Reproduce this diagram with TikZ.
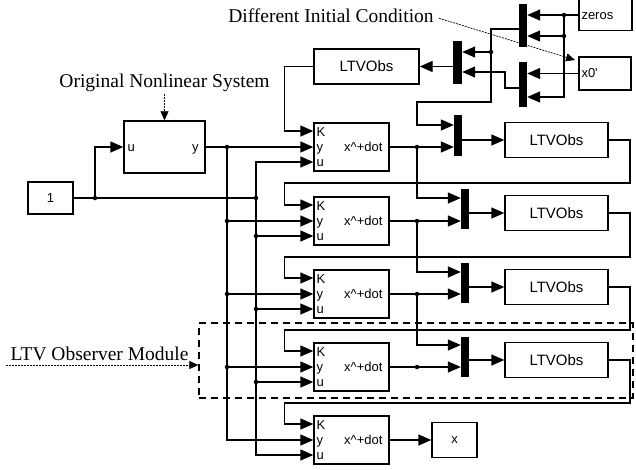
\documentclass[tikz,border=0pt]{standalone}
\usepackage{fontspec}
\setmainfont{Liberation Serif}
\newfontfamily\simfont{Liberation Sans}
\usetikzlibrary{arrows.meta,calc}

\tikzset{
  wire/.style={line width=1.4pt},
  sig/.style={wire,-{Triangle[length=13pt,width=11pt]}},
  blk/.style={draw,line width=1.4pt,inner sep=0pt,font=\simfont\fontsize{13}{13}\selectfont},
  obsblk/.style={blk,minimum width=75pt,minimum height=48pt},
  ltvblk/.style={blk,minimum width=103pt,minimum height=35pt,font=\simfont\fontsize{15}{15}\selectfont},
  muxbar/.style={fill=black,inner sep=0pt,minimum width=8pt},
  portlbl/.style={inner sep=0pt,font=\simfont\fontsize{13}{13}\selectfont},
  jdot/.style={circle,fill=black,inner sep=0pt,minimum size=4.5pt},
  note/.style={inner sep=0pt,font=\fontsize{19.5}{22}\selectfont},
  pointer/.style={line width=0.7pt,dash pattern=on 2pt off 1pt,-{Triangle[length=9pt,width=8pt]}},
}

\begin{document}
\begin{tikzpicture}[x=1pt,y=-1pt,line join=miter]
        \useasboundingbox (0,0) rectangle (636,469);

        % Source and plant
        \node[blk,minimum width=45pt,minimum height=32pt] (one) at (50.5,198) {1};
        \node[blk,minimum width=81pt,minimum height=52pt] (plant) at (164.5,147) {};
        \node[portlbl,anchor=base west] (plantu) at ([xshift=4pt,yshift=-4pt]plant.west) {u};
        \node[portlbl,anchor=base east] (planty) at ([xshift=-7pt,yshift=-4pt]plant.east) {y};

        % Observer blocks
        \foreach \i/\yy in {1/147,2/221,3/294,4/367,5/440}{
          \node[obsblk] (ob\i) at (351.5,\yy) {};
          \coordinate (k\i) at ([yshift=16pt]ob\i.west);
          \coordinate (y\i) at (ob\i.west);
          \coordinate (u\i) at ([yshift=-15pt]ob\i.west);
          \node[portlbl,anchor=base west] (kl\i) at ([xshift=3pt,yshift=-5pt]k\i) {K};
          \node[portlbl,anchor=base west] (yl\i) at ([xshift=3pt,yshift=-4pt]y\i) {y};
          \node[portlbl,anchor=base west] (ul\i) at ([xshift=3pt,yshift=-4pt]u\i) {u};
          \node[portlbl,anchor=base east] (xl\i) at ([xshift=-7pt,yshift=-4pt]ob\i.east) {x\textasciicircum+dot};
        }

        % LTVObs blocks
        \node[ltvblk,minimum width=105pt] (lt0) at (366.5,66.5) {LTVObs};
        \foreach \i/\yy in {1/140,2/213,3/287,4/360}
          \node[ltvblk] (lt\i) at (556.5,\yy) {LTVObs};

        % Muxes
        \node[muxbar,minimum height=43pt] (muxA) at (523,25.5) {};
        \node[muxbar,minimum height=45pt] (muxB) at (523,84.5) {};
        \node[muxbar,minimum height=43pt,minimum width=9pt] (muxC) at (457.5,62.5) {};
        \node[muxbar,minimum height=41pt] (mux1) at (458,135.5) {};
        \foreach \i/\yy in {2/209,3/283,4/356.5}
          \node[muxbar,minimum height=40pt] (mux\i) at (465,\yy) {};

        % Workspace blocks and output
        \node[blk,minimum width=53pt,minimum height=31pt] (zeros) at (605.5,15) {};
        \node[portlbl,anchor=base west] (zerosl) at ([xshift=3pt,yshift=-4pt]zeros.west) {zeros};
        \node[blk,minimum width=52pt,minimum height=33pt] (xzero) at (605,73.5) {};
        \node[portlbl,anchor=base west] (xzerol) at ([xshift=3pt,yshift=-4pt]xzero.west) {x0'};
        \node[blk,minimum width=45pt,minimum height=35pt] (xout) at (454.5,440) {x};

        % Plant and buses
        \coordinate (cj) at (95,198);
        \coordinate (ub) at (256,198);
        \coordinate (yb) at (227,147);
        \draw[wire] (one.east) -- (ub);
        \draw[sig] (cj) |- (plant.west);
        \draw[sig] (plant.east) -- (y1);
        \draw[sig] (yb) |- (y5);
        \draw[sig] (ub) |- (u1);
        \draw[sig] (ub) |- (u5);
        \foreach \i in {2,3,4}{
          \draw[sig] (yb |- y\i) -- (y\i);
          \draw[sig] (ub |- u\i) -- (u\i);
          \node[jdot] (yd\i) at (yb |- y\i) {};
          \node[jdot] (ud\i) at (ub |- u\i) {};
        }
        \foreach \c in {cj,ub,yb} \node[jdot] at (\c) {};

        % Feedback into K
        \draw[sig] (lt0.west) -| ([xshift=-29pt]k1) -- (k1);
        \foreach \i/\j/\r in {1/2/183,2/3/257,3/4/330,4/5/403}
          \draw[sig] (lt\i.east) -| (630,\r) -| ([xshift=-29pt]k\j) -- (k\j);

        % Estimates into muxes
        \foreach \i in {1,2,3,4}{
          \coordinate (oj\i) at (ob\i.east -| 417,0);
          \draw[sig] (ob\i.east) -- (mux\i.west |- ob\i.east);
          \draw[sig] (mux\i.east |- lt\i.west) -- (lt\i.west);
        }
        \foreach \i/\j/\a in {1/2/198,2/3/272,3/4/345}{
          \draw[sig] (oj\i) |- (mux\j.west |- 0,\a);
          \node[jdot] (ojd\i) at (oj\i) {};
        }
        \node[jdot] (ojd4) at (oj4) {};
        \draw[sig] (ob5.east) -- (xout.west);

        % Initial condition
        \coordinate (zj1) at (564,15);
        \coordinate (zj2) at (564,36);
        \coordinate (aj) at (491,52);
        \coordinate (m1in) at (mux1.west |- 0,125);
        \draw[sig] (zeros.west) -- (muxA.east |- zeros.west);
        \draw[sig] (zj2) -- (muxA.east |- zj2);
        \draw[sig] (zj1) |- (muxB.east |- 0,97);
        \draw[sig] (xzero.west) -- (muxB.east |- xzero.west);
        \draw[sig] (muxA.west |- 0,29) -| (491,102) -| ([xshift=-37pt]m1in) -- (m1in);
        \draw[sig] (aj) -- (muxC.east |- aj);
        \draw[sig] (muxB.west |- 0,88) -| (505,72) -- (muxC.east |- 0,72);
        \draw[sig] (muxC.west |- lt0.east) -- (lt0.east);
        \foreach \c in {zj1,zj2,aj} \node[jdot] at (\c) {};

        % Observer module frame
        \node[draw,line width=1.4pt,dash pattern=on 7pt off 5pt,inner sep=0pt,
              minimum width=434pt,minimum height=75pt] (module) at (416,360.5) {};

        % Annotations
        \node[note,anchor=base] (nlsys) at (164.5,87) {Original Nonlinear System};
        \draw[pointer] ([yshift=-3pt]nlsys.south) -- (plant.north);
        \node[note,anchor=base] (icnote) at (331,22) {Different Initial Condition};
        \coordinate (ictip) at (575,60);
        \draw[pointer] ([xshift=5pt,yshift=-3pt]icnote.east) -- (ictip);
        \node[note,anchor=base] (ltvnote) at (99.5,360) {LTV Observer Module};
        \coordinate (ltvtail) at (6,365);
        \draw[pointer] (ltvtail) -- (module.west |- ltvtail);
    \end{tikzpicture}
\end{document}
